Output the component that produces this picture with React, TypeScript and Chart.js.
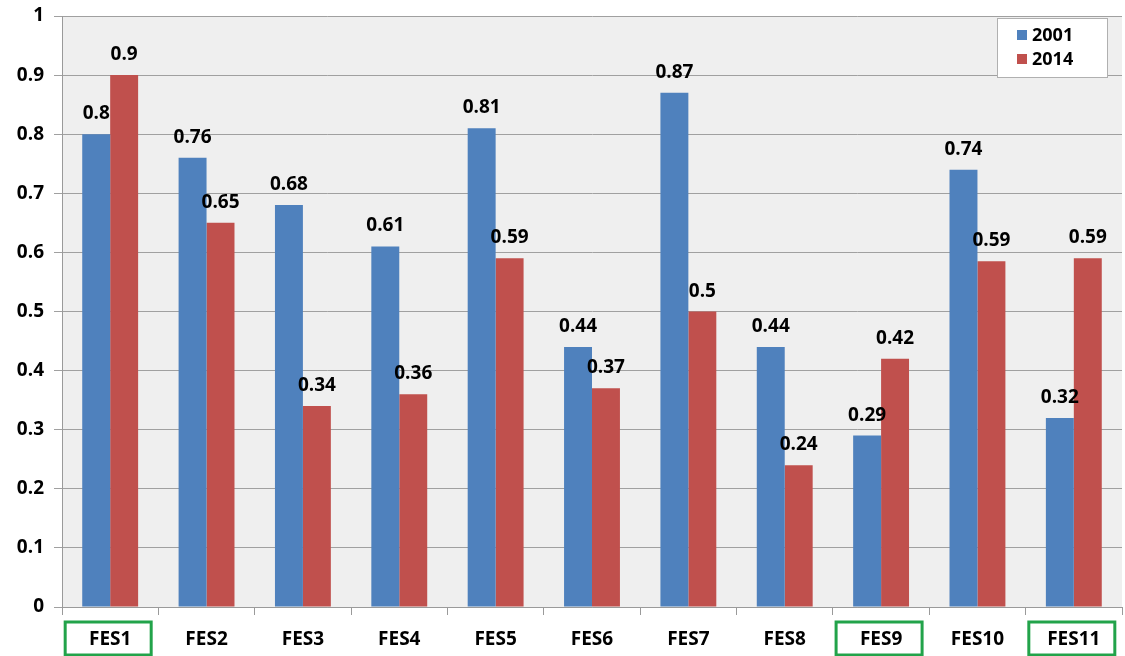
import React, { useEffect, useRef } from "react";
import { Chart, registerables } from "chart.js";

Chart.register(...registerables);

const categories = ["FES1", "FES2", "FES3", "FES4", "FES5", "FES6", "FES7", "FES8", "FES9", "FES10", "FES11"];
const values2001 = [0.8, 0.76, 0.68, 0.61, 0.81, 0.44, 0.87, 0.44, 0.29, 0.74, 0.32];
const values2014 = [0.9, 0.65, 0.34, 0.36, 0.59, 0.37, 0.5, 0.24, 0.42, 0.585, 0.59];
const labels2001 = ["0.8", "0.76", "0.68", "0.61", "0.81", "0.44", "0.87", "0.44", "0.29", "0.74", "0.32"];
const labels2014 = ["0.9", "0.65", "0.34", "0.36", "0.59", "0.37", "0.5", "0.24", "0.42", "0.59", "0.59"];
const yTickLabels = ["0", "0.1", "0.2", "0.3", "0.4", "0.5", "0.6", "0.7", "0.8", "0.9", "1"];
const seriesNames = ["2001", "2014"];
const highlighted = ["FES1", "FES9", "FES11"];

const BLUE = "#4f81bd";
const RED = "#c0504d";
const FONT = "'Open Sans', sans-serif";

export default function App() {
  const ref = useRef<HTMLCanvasElement | null>(null);

  useEffect(() => {
    document.body.style.margin = "0";
    const canvas = ref.current;
    if (!canvas) return;

    const bgPlugin = {
      id: "bg",
      beforeDraw(chart: any) {
        const { ctx, chartArea } = chart;
        ctx.save();
        ctx.fillStyle = "#ffffff";
        ctx.fillRect(0, 0, chart.width, chart.height);
        ctx.fillStyle = "#efefef";
        ctx.fillRect(chartArea.left, chartArea.top, chartArea.right - chartArea.left, chartArea.bottom - chartArea.top);
        ctx.restore();
      },
    };

    const labelPlugin = {
      id: "valueLabels",
      afterDatasetsDraw(chart: any) {
        const { ctx } = chart;
        const labelSets = [labels2001, labels2014];
        ctx.save();
        ctx.font = `bold 19px ${FONT}`;
        ctx.fillStyle = "#000";
        ctx.textAlign = "center";
        ctx.textBaseline = "alphabetic";
        chart.data.datasets.forEach((_: any, di: number) => {
          const meta = chart.getDatasetMeta(di);
          meta.data.forEach((bar: any, i: number) => {
            ctx.fillText(labelSets[di][i], bar.x, bar.y - 15);
          });
        });
        ctx.restore();
      },
    };

    const boxPlugin = {
      id: "greenBoxes",
      afterDraw(chart: any) {
        const { ctx } = chart;
        const xs = chart.scales.x;
        ctx.save();
        ctx.strokeStyle = "#22a34a";
        ctx.lineWidth = 3;
        highlighted.forEach((c) => {
          const idx = categories.indexOf(c);
          const cx = xs.getPixelForValue(idx);
          ctx.strokeRect(cx - 45, chart.chartArea.bottom + 15, 86, 33);
        });
        ctx.restore();
      },
    };

    const legendPlugin = {
      id: "customLegend",
      afterDraw(chart: any) {
        const { ctx, chartArea } = chart;
        const x0 = chartArea.right - 125;
        const y0 = chartArea.top + 2;
        ctx.save();
        ctx.fillStyle = "#ffffff";
        ctx.fillRect(x0, y0, 110, 59);
        ctx.strokeStyle = "#b0b0b0";
        ctx.lineWidth = 1;
        ctx.strokeRect(x0 + 0.5, y0 + 0.5, 110, 59);
        const colors = [BLUE, RED];
        ctx.font = `bold 18px ${FONT}`;
        ctx.textBaseline = "middle";
        ctx.textAlign = "left";
        seriesNames.forEach((n, i) => {
          const cy = y0 + 17 + i * 24;
          ctx.fillStyle = colors[i];
          ctx.fillRect(x0 + 20, cy - 5, 10, 10);
          ctx.fillStyle = "#000";
          ctx.fillText(n, x0 + 35, cy + 1);
        });
        ctx.restore();
      },
    };

    const chart = new Chart(canvas, {
      type: "bar",
      data: {
        labels: categories,
        datasets: [
          { label: seriesNames[0], data: values2001, backgroundColor: BLUE, categoryPercentage: 0.58, barPercentage: 1.0 },
          { label: seriesNames[1], data: values2014, backgroundColor: RED, categoryPercentage: 0.58, barPercentage: 1.0 },
        ],
      },
      options: {
        responsive: false,
        animation: false,
        layout: { padding: { top: 16, right: 3, left: 0, bottom: 0 } },
        plugins: { legend: { display: false }, tooltip: { enabled: false }, title: { display: false } },
        scales: {
          x: {
            grid: { display: true, drawOnChartArea: false, color: "#9a9a9a", tickLength: 8, offset: true },
            border: { color: "#9a9a9a" },
            ticks: { color: "#000", font: { family: FONT, size: 19, weight: "bold" }, padding: 13 },
            afterFit(scale: any) { scale.height = 49; scale.paddingLeft = 0; scale.paddingRight = 0; },
          },
          y: {
            min: 0,
            max: 1,
            ticks: {
              stepSize: 0.1,
              color: "#000",
              font: { family: FONT, size: 19, weight: "bold" },
              padding: 10,
              callback: (_v: any, i: number) => yTickLabels[i],
            },
            grid: { color: "#a0a0a0", tickLength: 8 },
            border: { color: "#9a9a9a" },
            afterFit(scale: any) { scale.width = 62; scale.paddingTop = 0; scale.paddingBottom = 0; },
          },
        },
      },
      plugins: [bgPlugin, labelPlugin, boxPlugin, legendPlugin],
    });

    return () => chart.destroy();
  }, []);

  return <canvas ref={ref} width={1125} height={656} style={{ display: "block" }} />;
}
